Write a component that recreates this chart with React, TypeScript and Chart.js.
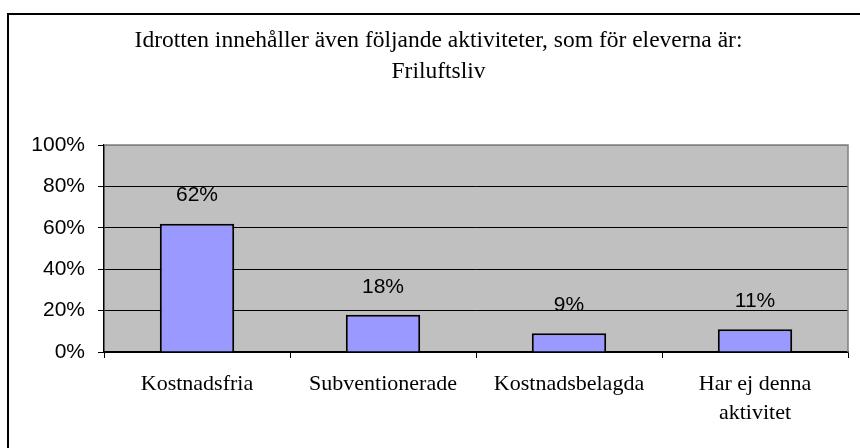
import React, { useEffect, useRef } from "react";
import { Chart, registerables } from "chart.js";

Chart.register(...registerables);

const categories: (string | string[])[] = [
  "Kostnadsfria",
  "Subventionerade",
  "Kostnadsbelagda",
  ["Har ej denna", "aktivitet"],
];
const values: number[] = [62, 18, 9, 11];
const titleLines: string[] = [
  "Idrotten innehåller även följande aktiviteter, som för eleverna är:",
  "Friluftsliv",
];
const yMin = 0;
const yMax = 100;
const yStep = 20;

const SERIF = "'Liberation Serif', 'Times New Roman', serif";
const SANS = "'Liberation Sans', Arial, sans-serif";

const plotBg = {
  id: "plotBg",
  beforeDraw(chart: any) {
    const { ctx, chartArea: a } = chart;
    ctx.save();
    ctx.fillStyle = "#C0C0C0";
    ctx.fillRect(a.left, a.top, a.right - a.left, a.bottom - a.top);
    ctx.restore();
  },
  beforeDatasetsDraw(chart: any) {
    const { ctx, chartArea: a } = chart;
    ctx.save();
    ctx.strokeStyle = "#808080";
    ctx.lineWidth = 1.5;
    ctx.beginPath();
    ctx.moveTo(a.left, a.top);
    ctx.lineTo(a.right, a.top);
    ctx.lineTo(a.right, a.bottom);
    ctx.stroke();
    ctx.restore();
  },
};

const valueLabels = {
  id: "valueLabels",
  afterDatasetsDraw(chart: any) {
    const { ctx } = chart;
    const meta = chart.getDatasetMeta(0);
    ctx.save();
    ctx.font = `21px ${SANS}`;
    ctx.fillStyle = "#000";
    ctx.textAlign = "center";
    ctx.textBaseline = "middle";
    meta.data.forEach((el: any, i: number) => {
      ctx.fillText(values[i] + "%", el.x, el.y - 28);
    });
    ctx.restore();
  },
};

export default function App() {
  const ref = useRef<HTMLCanvasElement | null>(null);
  useEffect(() => {
    if (!ref.current) return;
    const chart = new Chart(ref.current, {
      type: "bar",
      data: {
        labels: categories,
        datasets: [
          {
            data: values,
            backgroundColor: "#9999FF",
            borderColor: "#000000",
            borderWidth: 2,
            categoryPercentage: 1,
            barPercentage: 0.4,
          },
        ],
      },
      options: {
        animation: false,
        responsive: false,
        maintainAspectRatio: false,
        layout: { padding: { left: 29, right: 12, top: 0, bottom: 0 } },
        plugins: {
          legend: { display: false },
          tooltip: { enabled: false },
          title: {
            display: true,
            text: titleLines,
            color: "#000",
            font: { family: SERIF, size: 23.5, weight: "normal", lineHeight: 1.32 },
            padding: { top: 25, bottom: 58 },
          },
        },
        scales: {
          x: {
            grid: {
              offset: true,
              drawOnChartArea: false,
              drawTicks: true,
              tickLength: 6,
              color: "#000",
            },
            border: { color: "#000", width: 1.5 },
            ticks: {
              color: "#000",
              font: { family: SERIF, size: 22, lineHeight: 1.32 },
              padding: 12,
              maxRotation: 0,
              autoSkip: false,
            },
            afterFit(scale: any) {
              scale.height = 96;
            },
          },
          y: {
            min: yMin,
            max: yMax,
            grid: {
              color: (c: any) => (c.tick && c.tick.value === yMax ? "#808080" : "#000"),
              tickColor: "#000",
              tickLength: 6,
              lineWidth: 1,
            },
            border: { color: "#000", width: 1.5 },
            ticks: {
              stepSize: yStep,
              color: "#000",
              font: { family: SANS, size: 21 },
              padding: 13,
              callback: (v: any) => v + "%",
            },
            afterFit(scale: any) {
              scale.width = 75;
            },
          },
        },
      },
      plugins: [plotBg, valueLabels],
    });
    return () => chart.destroy();
  }, []);

  return (
    <div style={{ position: "fixed", left: 0, top: 0, width: 860, height: 448, background: "#fff" }}>
      <div
        style={{
          position: "absolute",
          left: 7,
          top: 13,
          right: 0,
          bottom: 0,
          borderLeft: "2px solid #000",
          borderTop: "2px solid #000",
        }}
      />
      <canvas
        ref={ref}
        width={860}
        height={448}
        style={{ position: "absolute", left: 0, top: 0, width: 860, height: 448 }}
      />
    </div>
  );
}
